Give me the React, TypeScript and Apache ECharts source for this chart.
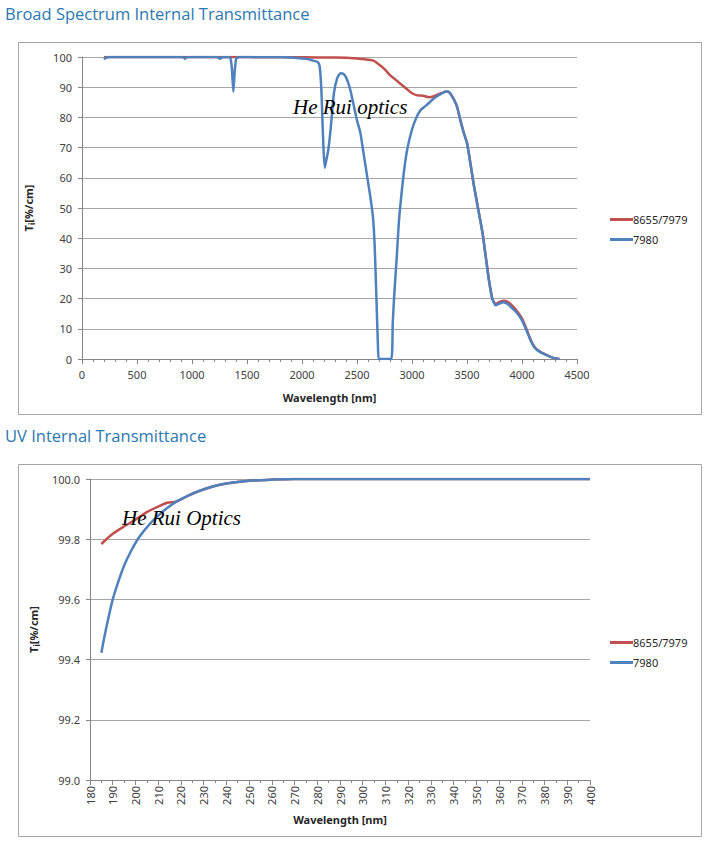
import React, { useEffect, useRef } from "react";
import * as echarts from "echarts";

// ---------- Broad spectrum data ----------
const broadWl7980 = [200, 220, 250, 400, 900, 925, 936, 948, 980, 1200, 1235, 1255, 1275, 1330, 1350, 1363, 1376, 1388, 1402, 1430, 1800, 1900, 2000, 2050, 2100, 2140, 2160, 2175, 2185, 2195, 2207, 2222, 2240, 2260, 2290, 2320, 2350, 2380, 2410, 2440, 2470, 2500, 2530, 2560, 2590, 2620, 2645, 2660, 2675, 2690, 2700, 2810, 2825, 2840, 2860, 2880, 2900, 2930, 2960, 3000, 3040, 3080, 3130, 3190, 3250, 3310, 3340, 3380, 3410, 3440, 3470, 3500, 3530, 3560, 3600, 3640, 3670, 3700, 3730, 3760, 3790, 3830, 3870, 3920, 3960, 4000, 4040, 4080, 4120, 4170, 4230, 4290, 4340];
const broadT7980 = [99.2, 99.8, 100, 100, 100, 99.9, 99.4, 99.9, 100, 100, 99.9, 99.4, 99.9, 100, 99.5, 96, 88.5, 95, 99.5, 100, 100, 99.8, 99.5, 99.3, 98.8, 98.4, 97, 90, 80, 70, 63.3, 66, 69.5, 76, 88, 93, 94.6, 94.3, 92.5, 89, 84, 79, 75, 68, 61, 54, 47, 38, 22, 5, 0, 0, 12, 22, 33, 45, 53, 63, 70, 76, 80, 82.5, 84, 86, 87.5, 88.6, 88.3, 86, 83.5, 79, 75, 71.5, 65, 58, 50, 42, 34, 26, 20, 17.8, 18.3, 18.8, 18.2, 16.5, 15, 12.8, 9.5, 6, 3.5, 2.2, 1.2, 0.3, 0];

const broadWl8655 = [200, 1000, 2000, 2300, 2500, 2600, 2650, 2700, 2750, 2800, 2850, 2900, 2950, 3000, 3050, 3100, 3150, 3200, 3250, 3310, 3340, 3380, 3410, 3440, 3470, 3500, 3530, 3560, 3600, 3640, 3670, 3700, 3730, 3760, 3790, 3830, 3870, 3920, 3960, 4000, 4040, 4080, 4120, 4170, 4230, 4290, 4340];
const broadT8655 = [100, 100, 99.9, 99.8, 99.5, 99.1, 98.8, 97.5, 96, 94, 92.5, 91, 89.5, 88, 87.3, 87.2, 86.7, 87, 87.8, 88.6, 88.3, 86, 83.5, 79, 75, 71.5, 65, 58, 50, 42, 34, 26, 20, 18.2, 18.8, 19.3, 18.9, 17.3, 15.6, 13.5, 10, 6.3, 3.7, 2.3, 1.2, 0.3, 0];

// ---------- UV data ----------
const uvWl7980 = [185, 187, 190, 192.5, 195, 198, 201, 204, 208, 213, 218, 223, 228, 234, 240, 250, 260, 270, 280, 300, 350, 400];
const uvT7980 = [99.423, 99.5, 99.6, 99.66, 99.712, 99.76, 99.8, 99.83, 99.864, 99.898, 99.925, 99.944, 99.96, 99.975, 99.985, 99.994, 99.998, 100, 100, 100, 100, 100];

const uvWl8655 = [185, 190, 196, 200, 205, 210, 214, 218, 223, 228, 234, 240, 250, 260, 270, 280, 300, 350, 400];
const uvT8655 = [99.784, 99.818, 99.847, 99.865, 99.89, 99.908, 99.921, 99.925, 99.944, 99.96, 99.975, 99.985, 99.994, 99.998, 100, 100, 100, 100, 100];

const seriesNames = ["8655/7979", "7980"];
const colors = ["#c0504d", "#4f81bd"];

const titleTop = "Broad Spectrum Internal Transmittance";
const titleBottom = "UV Internal Transmittance";
const watermarkTop = "He Rui optics";
const watermarkBottom = "He Rui Optics";
const xName = "Wavelength [nm]";

const zip = (xs: number[], ys: number[]) => xs.map((x, i) => [x, ys[i]]);

export default function App() {
  const ref = useRef<HTMLDivElement>(null);
  useEffect(() => {
    if (!ref.current) return;
    const chart = echarts.init(ref.current, null, { renderer: "svg" });
    const font = "Noto Sans";
    const labelStyle = { color: "#404040", fontSize: 11, fontFamily: font };
    const yNameRich = {
      b: { fontSize: 11, fontWeight: "bold", fontFamily: font, color: "#262626" },
      s: { fontSize: 8, fontWeight: "bold", fontFamily: font, color: "#262626", padding: [6, 0, 0, 0] },
    };
    const axisLine = { show: true, lineStyle: { color: "#868686", width: 1 } };
    const split = { show: true, lineStyle: { color: "#a6a6a6", width: 1 } };
    const legendCommon = {
      orient: "vertical" as const,
      icon: "rect",
      itemWidth: 23,
      itemHeight: 3,
      itemGap: 9,
      textStyle: { color: "#262626", fontSize: 11, fontFamily: font, padding: [0, 0, 0, -5] },
      data: seriesNames,
    };
    chart.setOption({
      animation: false,
      backgroundColor: "#ffffff",
      color: colors,
      grid: [
        { left: 82, top: 57, width: 495, height: 302 },
        { left: 90, top: 479, width: 500, height: 301 },
      ],
      legend: [
        { ...legendCommon, left: 605, top: 209 },
        { ...legendCommon, left: 605, top: 632 },
      ],
      xAxis: [
        {
          gridIndex: 0, type: "value", min: 0, max: 4500, interval: 500,
          name: xName, nameLocation: "middle", nameGap: 33,
          nameTextStyle: { fontSize: 11, fontWeight: "bold", fontFamily: font, color: "#262626" },
          axisLine, axisTick: { show: true, length: 5, lineStyle: { color: "#868686" } },
          minorTick: { show: true, splitNumber: 5, length: 3, lineStyle: { color: "#868686" } },
          splitLine: { show: false },
          axisLabel: { ...labelStyle, margin: 10, formatter: (v: number) => String(v) },
        },
        {
          gridIndex: 1, type: "value", min: 180, max: 400, interval: 10,
          name: xName, nameLocation: "middle", nameGap: 34,
          nameTextStyle: { fontSize: 11, fontWeight: "bold", fontFamily: font, color: "#262626" },
          axisLine, axisTick: { show: true, length: 5, lineStyle: { color: "#868686" } },
          minorTick: { show: true, splitNumber: 2, length: 3, lineStyle: { color: "#868686" } },
          splitLine: { show: false },
          axisLabel: { ...labelStyle, rotate: 90, margin: 6, formatter: (v: number) => String(v) },
        },
      ],
      yAxis: [
        {
          gridIndex: 0, type: "value", min: 0, max: 100, interval: 10,
          name: "{b|T}{s|i}{b|[%/cm]}", nameLocation: "middle", nameGap: 47, nameRotate: 90,
          nameTextStyle: { rich: yNameRich },
          axisLine, axisTick: { show: true, length: 4, lineStyle: { color: "#868686" } },
          splitLine: split,
          axisLabel: { ...labelStyle, margin: 10 },
        },
        {
          gridIndex: 1, type: "value", min: 99.0, max: 100.0, interval: 0.2,
          name: "{b|T}{s|i}{b|[%/cm]}", nameLocation: "middle", nameGap: 48, nameRotate: 90,
          nameTextStyle: { rich: yNameRich },
          axisLine, axisTick: { show: true, length: 4, lineStyle: { color: "#868686" } },
          splitLine: split,
          axisLabel: { ...labelStyle, margin: 10, formatter: (v: number) => v.toFixed(1) },
        },
      ],
      series: [
        {
          name: seriesNames[0], type: "line", xAxisIndex: 0, yAxisIndex: 0,
          data: zip(broadWl8655, broadT8655), showSymbol: false, smooth: 0.2,
          lineStyle: { width: 2.5, color: colors[0] }, itemStyle: { color: colors[0] },
        },
        {
          name: seriesNames[1], type: "line", xAxisIndex: 0, yAxisIndex: 0,
          data: zip(broadWl7980, broadT7980), showSymbol: false, smooth: 0.2,
          lineStyle: { width: 2.5, color: colors[1] }, itemStyle: { color: colors[1] },
        },
        {
          name: seriesNames[0], type: "line", xAxisIndex: 1, yAxisIndex: 1,
          data: zip(uvWl8655, uvT8655), showSymbol: false, smooth: 0.3,
          lineStyle: { width: 2.5, color: colors[0] }, itemStyle: { color: colors[0] },
        },
        {
          name: seriesNames[1], type: "line", xAxisIndex: 1, yAxisIndex: 1,
          data: zip(uvWl7980, uvT7980), showSymbol: false, smooth: 0.3,
          lineStyle: { width: 2.5, color: colors[1] }, itemStyle: { color: colors[1] },
        },
      ],
      graphic: [
        { type: "rect", z: -10, shape: { x: 18.5, y: 42.5, width: 683, height: 372 }, style: { fill: "#fff", stroke: "#a6a6a6", lineWidth: 1 } },
        { type: "rect", z: -10, shape: { x: 18.5, y: 464.5, width: 683, height: 372 }, style: { fill: "#fff", stroke: "#a6a6a6", lineWidth: 1 } },
        { type: "text", z: 50, left: 5, top: 5, style: { text: titleTop, fill: "#2b78b0", fontSize: 16.5, fontFamily: "Open Sans" } },
        { type: "text", z: 50, left: 5, top: 427, style: { text: titleBottom, fill: "#2b78b0", fontSize: 16.5, fontFamily: "Open Sans" } },
        { type: "text", z: 100, left: 293, top: 96, style: { text: watermarkTop, fill: "#000", fontSize: 21, fontStyle: "italic", fontFamily: "Liberation Serif" } },
        { type: "text", z: 100, left: 122, top: 507, style: { text: watermarkBottom, fill: "#000", fontSize: 21, fontStyle: "italic", fontFamily: "Liberation Serif" } },
      ],
    });
    return () => chart.dispose();
  }, []);
  return <div ref={ref} style={{ position: "absolute", left: 0, top: 0, width: 723, height: 847 }} />;
}
